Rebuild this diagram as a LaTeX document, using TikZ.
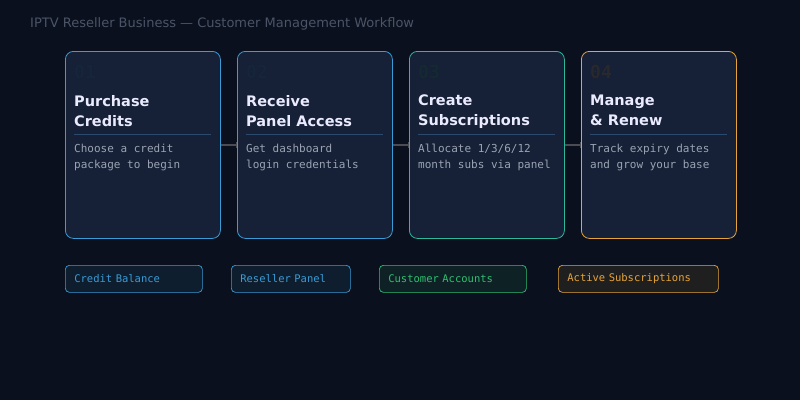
\documentclass[tikz,border=0pt]{standalone}
\usepackage{fontspec}
\setmainfont{DejaVu Sans}
\setmonofont{DejaVu Sans Mono}
\usetikzlibrary{positioning,arrows.meta}
\definecolor{bgnavy}{HTML}{0A101D}
\definecolor{cardfill}{HTML}{162036}
\definecolor{skyline}{HTML}{3A9BD5}
\definecolor{tealline}{HTML}{2DB89C}
\definecolor{amberline}{HTML}{E6A43A}
\definecolor{greenline}{HTML}{2FBF71}
\definecolor{titlegrey}{HTML}{4B5567}
\definecolor{bodygrey}{HTML}{9AA4B4}
\definecolor{rulegrey}{HTML}{2C4A6E}

\tikzset{
  card/.style={draw=#1, fill=cardfill, rounded corners=8pt, line width=0.8pt,
    minimum width=155pt, minimum height=187pt, anchor=north west, inner sep=0pt},
  stepnum/.style={text=#1, font=\ttfamily\bfseries\fontsize{18}{18}\selectfont, anchor=west, inner sep=0pt},
  steptitle/.style={text=white!92!blue, font=\bfseries\fontsize{14.5}{20}\selectfont,
    align=left, anchor=north west, inner sep=0pt},
  stepbody/.style={text=bodygrey, font=\ttfamily\fontsize{11}{16}\selectfont,
    align=left, anchor=north west, inner sep=0pt},
  tag/.style={draw=#1, text=#1, rounded corners=4pt, line width=0.7pt,
    font=\ttfamily\fontsize{10.5}{12}\selectfont, minimum height=27pt, anchor=north west,
    inner xsep=9pt, inner ysep=0pt, text width=#1-18pt},
  tag/.style 2 args={draw=#1, text=#1, fill=#1!10!bgnavy, rounded corners=4pt, line width=0.7pt,
    font=\ttfamily\fontsize{10.5}{12}\selectfont, minimum height=27pt, anchor=north west,
    inner xsep=9pt, inner ysep=0pt, text width=#2, align=left},
  link/.style={draw=gray!55!bgnavy, line width=1.2pt, -{Bar[width=6pt,line width=1pt]}}
}

\begin{document}
\begin{tikzpicture}[x=1pt,y=-1pt]
  \fill[bgnavy] (0,0) rectangle (800,400);
  \useasboundingbox (0,0) rectangle (800,400);
  \node[text=titlegrey, font=\fontsize{13}{14}\selectfont, anchor=west, inner sep=0pt] (heading) at (30,24)
    {IPTV Reseller Business — Customer Management Workflow};

  % step cards
  \node[card=skyline] (purchase) at (65,51) {};
  \node[card=skyline] (receive) at (237,51) {};
  \node[card=tealline] (create) at (409,51) {};
  \node[card=amberline] (manage) at (581,51) {};

  \node[stepnum=skyline!12!cardfill!80!black] (n1) at (74,72) {01};
  \node[stepnum=skyline!12!cardfill!80!black] (n2) at (246,72) {02};
  \node[stepnum=greenline!12!cardfill!80!black] (n3) at (418,72) {03};
  \node[stepnum=amberline!14!cardfill!80!black] (n4) at (590,72) {04};

  \node[steptitle] (t1) at (74,95) {Purchase\\Credits};
  \node[steptitle] (t2) at (246,95) {Receive\\Panel Access};
  \node[steptitle] (t3) at (418,95) {Create\\Subscriptions};
  \node[steptitle] (t4) at (590,95) {Manage\\\& Renew};

  \foreach \x in {74,246,418,590}
    \draw[rulegrey, line width=0.7pt] (\x,134) -- (\x+137,134);

  \node[stepbody] (b1) at (74,144) {Choose a credit\\package to begin};
  \node[stepbody] (b2) at (246,144) {Get dashboard\\login credentials};
  \node[stepbody] (b3) at (418,144) {Allocate 1/3/6/12\\month subs via panel};
  \node[stepbody] (b4) at (590,144) {Track expiry dates\\and grow your base};

  % connectors
  \draw[link] (purchase.east |- 0,145) -- (receive.west |- 0,145);
  \draw[link] (receive.east |- 0,145) -- (create.west |- 0,145);
  \draw[link] (create.east |- 0,145) -- (manage.west |- 0,145);

  % outputs
  \node[tag={skyline}{119pt}] (credits) at (65,265) {Credit Balance};
  \node[tag={skyline}{101pt}] (panel) at (231,265) {Reseller Panel};
  \node[tag={greenline}{129pt}] (accounts) at (379,265) {Customer Accounts};
  \node[tag={amberline}{142pt}] (subs) at (558,265) {Active Subscriptions};
\end{tikzpicture}
\end{document}
